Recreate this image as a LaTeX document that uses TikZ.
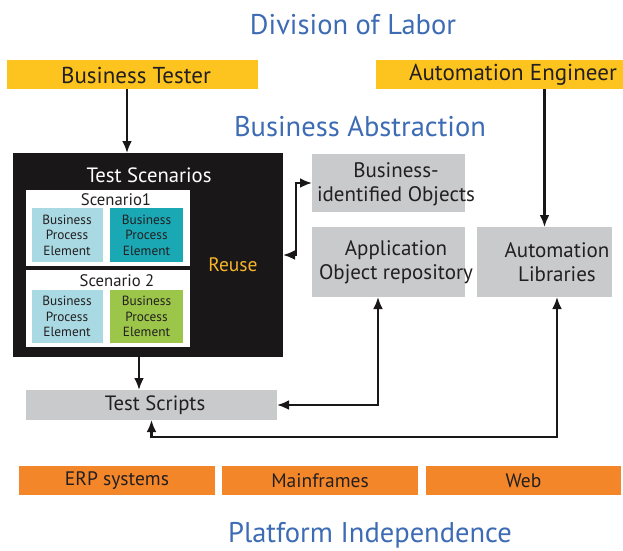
\documentclass[tikz,border=0pt]{standalone}
\usepackage{fontspec}
\setmainfont{PT Sans}
\usetikzlibrary{arrows.meta}
\definecolor{ttlblue}{HTML}{3D6BB4}
\definecolor{ylw}{HTML}{FDC41F}
\definecolor{gry}{HTML}{C8CACB}
\definecolor{orng}{HTML}{F4862A}
\definecolor{teal2}{HTML}{1AA8B5}
\definecolor{lblue}{HTML}{A9D9E3}
\definecolor{grn}{HTML}{9BC64A}
\definecolor{blk}{HTML}{1A1718}
\definecolor{reuse}{HTML}{F6B52B}
\definecolor{txt}{HTML}{231F20}
\begin{document}
\begin{tikzpicture}[x=1pt,y=-1pt,
  every node/.style={inner sep=0pt,outer sep=0pt,text=txt},
  ttl/.style={text=ttlblue,font=\fontsize{28.5}{32}\selectfont},
  rolebox/.style={fill=ylw,minimum height=29pt},
  roletxt/.style={font=\fontsize{23}{26}\selectfont},
  graybox/.style={fill=gry},
  graytxt/.style={align=center,font=\fontsize{21}{24.5}\selectfont},
  platbox/.style={fill=orng,minimum width=196pt,minimum height=29pt,font=\fontsize{19.5}{22}\selectfont},
  scenbox/.style={fill=white,minimum width=164pt},
  elem/.style={minimum width=71pt,minimum height=54pt,align=center,font=\fontsize{13.3}{15.5}\selectfont},
  arr/.style={line width=2.5pt,draw=blk,-{Latex[length=12pt,width=10pt]}},
  dbl/.style={line width=2.5pt,draw=blk,{Latex[length=12pt,width=10pt]}-{Latex[length=12pt,width=10pt]}}
]
\useasboundingbox (0,0) rectangle (623,550);

\node[ttl] (dol) at (353,25) {Division of Labor};
\node[rolebox,minimum width=251pt] (bt) at (132.5,74.5) {};
\node[roletxt] (btt) at (136,75) {Business Tester};
\node[rolebox,minimum width=247pt] (ae) at (499.5,74.5) {};
\node[roletxt] (aet) at (513,75) {Automation Engineer};
\node[ttl] (bab) at (360,127) {Business Abstraction};

% Test scenarios block
\node[fill=blk,minimum width=270pt,minimum height=204pt] (tsc) at (148,255) {};
\node[text=white,font=\fontsize{20.7}{24}\selectfont] (tsct) at (149,175) {Test Scenarios};
\node[scenbox,minimum height=76pt] (s1) at (108,228) {};
\node[font=\fontsize{16.7}{19}\selectfont] (s1t) at (116,200) {Scenario1};
\node[elem,fill=lblue] (e11) at (67,235) {Business\\Process\\Element};
\node[elem,fill=teal2,minimum width=73pt] (e12) at (146.5,235) {Business\\Process\\Element};
\node[scenbox,minimum height=77pt] (s2) at (108,308.5) {};
\node[font=\fontsize{16.7}{19}\selectfont] (s2t) at (117,281) {Scenario 2};
\node[elem,fill=lblue,minimum height=53pt] (e21) at (67,316.5) {Business\\Process\\Element};
\node[elem,fill=grn,minimum width=73pt,minimum height=53pt] (e22) at (146.5,316.5) {Business\\Process\\Element};
\node[text=reuse,font=\fontsize{19.5}{22}\selectfont] (ru) at (233,265) {Reuse};

% right boxes
\node[graybox,minimum width=153pt,minimum height=58pt] (bio) at (388.5,183) {};
\node[graytxt] (biot) at (396,184.5) {Business-\\identified Objects};
\node[graybox,minimum width=153pt,minimum height=70pt] (aor) at (388.5,262) {};
\node[graytxt] (aort) at (396,262.5) {Application\\Object repository};
\node[graybox,minimum width=135pt,minimum height=70pt] (al) at (544.5,262) {};
\node[graytxt] (alt) at (557,262) {Automation\\Libraries};

\node[graybox,minimum width=251pt,minimum height=30pt] (tscr) at (151.5,405) {};
\node[graytxt,font=\fontsize{20.7}{24}\selectfont] (tscrt) at (155,405.5) {Test Scripts};

% platforms
\node[platbox] (erp) at (117,480.5) {ERP systems};
\node[platbox] (mf) at (320,480.5) {Mainframes};
\node[platbox,minimum width=195pt] (web) at (523.5,480.5) {Web};
\node[ttl] (pin) at (370,535) {Platform Independence};

% connectors
\draw[arr] ([xshift=-5.5pt]bt.south) -- ([xshift=-5.5pt]bt.south |- tsc.north);
\draw[arr] (al.north |- ae.south) -- (al.north);
\draw[dbl] (tsc.east) -- ++(13,0) |- (bio.west);
\draw[arr] ([xshift=-9pt]tsc.south) -- ([xshift=-9pt]tsc.south |- tscr.north);
\draw[dbl] (tscr.east) -| ([xshift=-10.5pt]aor.south);
\draw[dbl] ([xshift=12.5pt]al.south) |- ([yshift=-17pt]tscr.south) -- (tscr.south);
\end{tikzpicture}
\end{document}
